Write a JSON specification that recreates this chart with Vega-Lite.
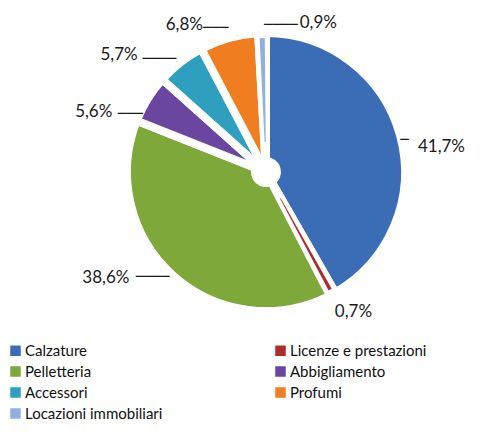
{
  "$schema": "https://vega.github.io/schema/vega-lite/v6.json",
  "width": 432,
  "height": 344,
  "padding": {"left": 50, "top": 0, "right": 1, "bottom": 104},
  "autosize": {"type": "none"},
  "background": "white",
  "config": {"view": {"stroke": null}, "font": "Lato"},
  "data": {
    "values": [
      {"voce": "Calzature", "quota": 41.7, "etichetta": "41,7%"},
      {"voce": "Licenze e prestazioni", "quota": 0.7, "etichetta": "0,7%"},
      {"voce": "Pelletteria", "quota": 38.6, "etichetta": "38,6%"},
      {"voce": "Abbigliamento", "quota": 5.6, "etichetta": "5,6%"},
      {"voce": "Accessori", "quota": 5.7, "etichetta": "5,7%"},
      {"voce": "Profumi", "quota": 6.8, "etichetta": "6,8%"},
      {"voce": "Locazioni immobiliari", "quota": 0.9, "etichetta": "0,9%"}
    ]
  },
  "transform": [{"stack": "quota", "groupby": [], "as": ["inizio", "fine"]}],
  "encoding": {
    "theta": {"field": "quota", "type": "quantitative", "stack": true, "scale": {"domain": [0, 100]}},
    "order": {"field": "inizio"},
    "detail": {"field": "voce"}
  },
  "layer": [
    {
      "mark": {"type": "arc", "outerRadius": 139, "innerRadius": 11, "stroke": "white", "strokeWidth": 8},
      "encoding": {
        "color": {
          "field": "voce",
          "type": "nominal",
          "sort": null,
          "scale": {
            "domain": ["Calzature", "Licenze e prestazioni", "Pelletteria", "Abbigliamento", "Accessori", "Profumi", "Locazioni immobiliari"],
            "range": ["#3a6db5", "#b02b2b", "#7ea83a", "#6b46a0", "#2e9fbf", "#f07d20", "#8fb0e0"]
          },
          "legend": {
            "title": null,
            "orient": "none",
            "legendX": -42,
            "legendY": 343,
            "columns": 2,
            "direction": "horizontal",
            "symbolType": "square",
            "symbolSize": 110,
            "symbolStrokeWidth": 0,
            "labelFontSize": 15,
            "labelFont": "Lato",
            "labelColor": "#111111",
            "labelOffset": 2,
            "rowPadding": 5,
            "columnPadding": 110,
            "labelLimit": 300
          }
        }
      }
    },
    {
      "transform": [{"filter": "datum.quota < 1"}],
      "mark": {"type": "arc", "outerRadius": 134, "innerRadius": 30, "thetaOffset": 0.009, "theta2Offset": -0.009},
      "encoding": {
        "theta": {"field": "inizio", "type": "quantitative", "stack": null},
        "theta2": {"field": "fine"},
        "order": null,
        "detail": null,
        "color": {"field": "voce", "type": "nominal", "sort": null, "legend": null}
      }
    },
    {"mark": {"type": "text", "radius": 139, "align": "left", "dx": 0, "dy": 4, "font": "DejaVu Sans", "fontWeight": "bold", "fontSize": 14, "color": "#1a1a1a"},
     "encoding": {"text": {"condition": {"test": "datum.voce === 'Calzature'", "value": "─"}, "value": ""}}},
    {"mark": {"type": "text", "radius": 150, "align": "left", "dx": 7, "dy": 14, "fontSize": 17, "color": "#1a1a1a"},
     "encoding": {"text": {"condition": {"test": "datum.voce === 'Calzature'", "field": "etichetta"}, "value": ""}}},
    {"mark": {"type": "text", "radius": 150, "align": "left", "dx": -3, "dy": 8, "fontSize": 17, "color": "#1a1a1a"},
     "encoding": {"text": {"condition": {"test": "datum.voce === 'Licenze e prestazioni'", "field": "etichetta"}, "value": ""}}},
    {"mark": {"type": "text", "radius": 141, "align": "right", "dx": -2, "dy": 0, "font": "DejaVu Sans", "fontWeight": "bold", "fontSize": 14, "color": "#1a1a1a"},
     "encoding": {"text": {"condition": {"test": "datum.voce === 'Pelletteria'", "value": "────"}, "value": ""}}},
    {"mark": {"type": "text", "radius": 150, "align": "right", "dx": -36, "dy": -5, "fontSize": 17, "color": "#1a1a1a"},
     "encoding": {"text": {"condition": {"test": "datum.voce === 'Pelletteria'", "field": "etichetta"}, "value": ""}}},
    {"mark": {"type": "text", "radius": 141, "align": "right", "dx": -3, "dy": 16, "font": "DejaVu Sans", "fontWeight": "bold", "fontSize": 14, "color": "#1a1a1a"},
     "encoding": {"text": {"condition": {"test": "datum.voce === 'Abbigliamento'", "value": "───"}, "value": ""}}},
    {"mark": {"type": "text", "radius": 150, "align": "right", "dx": -26, "dy": 19, "fontSize": 17, "color": "#1a1a1a"},
     "encoding": {"text": {"condition": {"test": "datum.voce === 'Abbigliamento'", "field": "etichetta"}, "value": ""}}},
    {"mark": {"type": "text", "radius": 141, "align": "right", "dx": -3, "dy": -2, "font": "DejaVu Sans", "fontWeight": "bold", "fontSize": 14, "color": "#1a1a1a"},
     "encoding": {"text": {"condition": {"test": "datum.voce === 'Accessori'", "value": "────"}, "value": ""}}},
    {"mark": {"type": "text", "radius": 150, "align": "right", "dx": -36, "dy": 1, "fontSize": 17, "color": "#1a1a1a"},
     "encoding": {"text": {"condition": {"test": "datum.voce === 'Accessori'", "field": "etichetta"}, "value": ""}}},
    {"mark": {"type": "text", "radius": 141, "align": "right", "dx": 0, "dy": -8, "font": "DejaVu Sans", "fontWeight": "bold", "fontSize": 14, "color": "#1a1a1a"},
     "encoding": {"text": {"condition": {"test": "datum.voce === 'Profumi'", "value": "───"}, "value": ""}}},
    {"mark": {"type": "text", "radius": 150, "align": "right", "dx": -23, "dy": -2, "fontSize": 17, "color": "#1a1a1a"},
     "encoding": {"text": {"condition": {"test": "datum.voce === 'Profumi'", "field": "etichetta"}, "value": ""}}},
    {"mark": {"type": "text", "radius": 141, "align": "left", "dx": 2, "dy": -6, "font": "DejaVu Sans", "fontWeight": "bold", "fontSize": 14, "color": "#1a1a1a"},
     "encoding": {"text": {"condition": {"test": "datum.voce === 'Locazioni immobiliari'", "value": "────"}, "value": ""}}},
    {"mark": {"type": "text", "radius": 150, "align": "left", "dx": 38, "dy": 1, "fontSize": 17, "color": "#1a1a1a"},
     "encoding": {"text": {"condition": {"test": "datum.voce === 'Locazioni immobiliari'", "field": "etichetta"}, "value": ""}}}
  ]
}
